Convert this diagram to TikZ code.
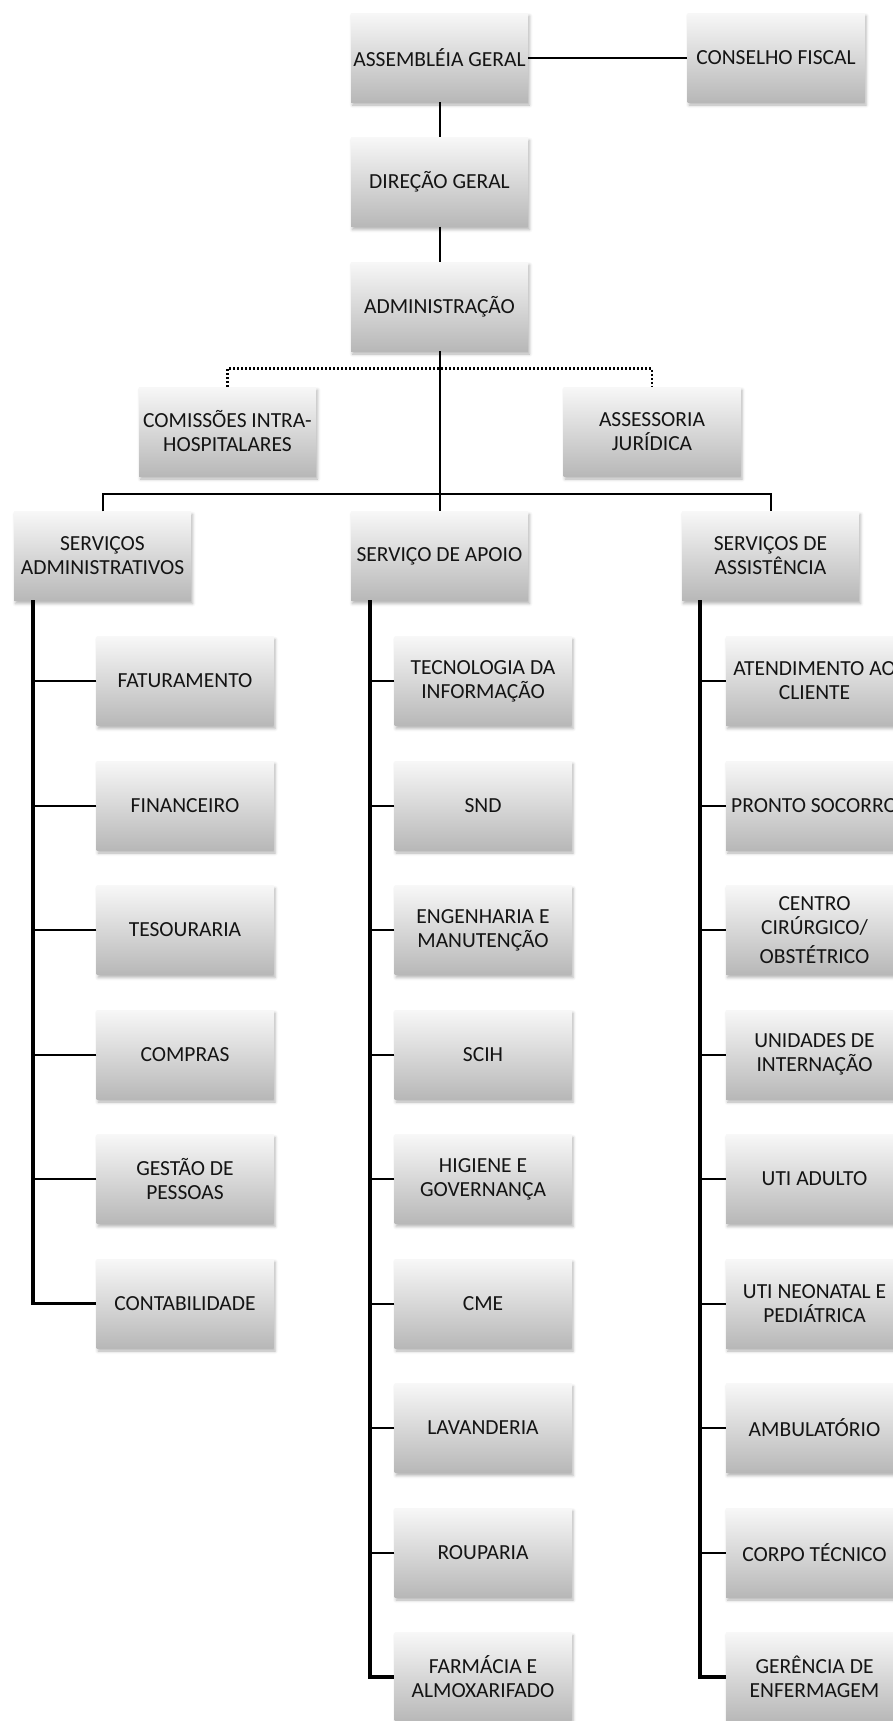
\documentclass[tikz,border=0pt]{standalone}
\usepackage{fontspec}
\setmainfont{Carlito}
\usetikzlibrary{shadows.blur}
\tikzset{
  orgbox/.style={minimum width=177pt, minimum height=89pt, inner sep=2pt, align=center,
    top color=black!3, bottom color=black!28,
    blur shadow={shadow xshift=1.5pt, shadow yshift=-3pt, shadow blur radius=3pt, shadow opacity=30},
    font=\fontsize{21.5}{24}\selectfont, text=black!92},
  conn/.style={line width=2pt, black},
  trunk/.style={line width=3.5pt, black},
  dotline/.style={line width=2.5pt, black, dash pattern=on 2pt off 2pt},
}
\begin{document}
\begin{tikzpicture}[x=1pt,y=-1pt]
\useasboundingbox (0,0) rectangle (893,1721);
\clip (0,0) rectangle (893,1721);
% top levels
\node[orgbox] (ag) at (439.5,57.5) {ASSEMBLÉIA GERAL};
\node[orgbox] (cf) at (776,57.5) {CONSELHO FISCAL};
\node[orgbox] (dg) at (439.5,182) {DIREÇÃO GERAL};
\node[orgbox] (adm) at (439.5,306.5) {ADMINISTRAÇÃO};
\node[orgbox] (com) at (227.5,431.5) {COMISSÕES INTRA-\\HOSPITALARES};
\node[orgbox] (ass) at (652,431.5) {ASSESSORIA\\JURÍDICA};
\node[orgbox] (sa) at (102.5,556) {SERVIÇOS\\ADMINISTRATIVOS};
\node[orgbox] (sap) at (439.5,556) {SERVIÇO DE APOIO};
\node[orgbox] (sas) at (770.5,556) {SERVIÇOS DE\\ASSISTÊNCIA};
% left column
\node[orgbox] (a1) at (185,681) {FATURAMENTO};
\node[orgbox] (a2) at (185,805.5) {FINANCEIRO};
\node[orgbox] (a3) at (185,930) {TESOURARIA};
\node[orgbox] (a4) at (185,1054.5) {COMPRAS};
\node[orgbox] (a5) at (185,1179) {GESTÃO DE\\PESSOAS};
\node[orgbox] (a6) at (185,1303.5) {CONTABILIDADE};
% middle column
\node[orgbox] (b1) at (483,681) {TECNOLOGIA DA\\INFORMAÇÃO};
\node[orgbox] (b2) at (483,805.5) {SND};
\node[orgbox] (b3) at (483,930) {ENGENHARIA E\\MANUTENÇÃO};
\node[orgbox] (b4) at (483,1054.5) {SCIH};
\node[orgbox] (b5) at (483,1179) {HIGIENE E\\GOVERNANÇA};
\node[orgbox] (b6) at (483,1303.5) {CME};
\node[orgbox] (b7) at (483,1428) {LAVANDERIA};
\node[orgbox] (b8) at (483,1552.5) {ROUPARIA};
\node[orgbox] (b9) at (483,1677) {FARMÁCIA E\\ALMOXARIFADO};
% right column
\node[orgbox] (c1) at (814.5,681) {ATENDIMENTO AO\\CLIENTE};
\node[orgbox] (c2) at (814.5,805.5) {PRONTO SOCORRO};
\node[orgbox] (c3) at (814.5,930) {CENTRO\\CIRÚRGICO/\\[5pt]OBSTÉTRICO};
\node[orgbox] (c4) at (814.5,1054.5) {UNIDADES DE\\INTERNAÇÃO};
\node[orgbox] (c5) at (814.5,1179) {UTI ADULTO};
\node[orgbox] (c6) at (814.5,1303.5) {UTI NEONATAL E\\PEDIÁTRICA};
\node[orgbox] (c7) at (814.5,1428) {AMBULATÓRIO};
\node[orgbox] (c8) at (814.5,1552.5) {CORPO TÉCNICO};
\node[orgbox] (c9) at (814.5,1677) {GERÊNCIA DE\\ENFERMAGEM};
% helper coordinates
\coordinate (dot) at (439.5,368.6);
\coordinate (bus) at (439.5,493.6);
\coordinate (ta) at (33,600);
\coordinate (tb) at (370,600);
\coordinate (tc) at (700,600);
% connectors
\draw[conn] (ag) -- (cf);
\draw[conn] (ag) -- (dg);
\draw[conn] (dg) -- (adm);
\draw[conn] (adm.south) -- (sap.north);
\draw[dotline] (com.north) |- (dot) -| (ass.north);
\draw[conn] (sa.north) |- (bus) -| (sas.north);
% trunks
\draw[trunk] (ta) |- (a6.west);
\draw[trunk] (tb) |- (b9.west);
\draw[trunk] (tc) |- (c9.west);
\foreach \n in {a1,a2,a3,a4,a5}{\draw[conn] (\n.west) -- (\n.west -| ta);}
\foreach \n in {b1,b2,b3,b4,b5,b6,b7,b8}{\draw[conn] (\n.west) -- (\n.west -| tb);}
\foreach \n in {c1,c2,c3,c4,c5,c6,c7,c8}{\draw[conn] (\n.west) -- (\n.west -| tc);}
\end{tikzpicture}
\end{document}
